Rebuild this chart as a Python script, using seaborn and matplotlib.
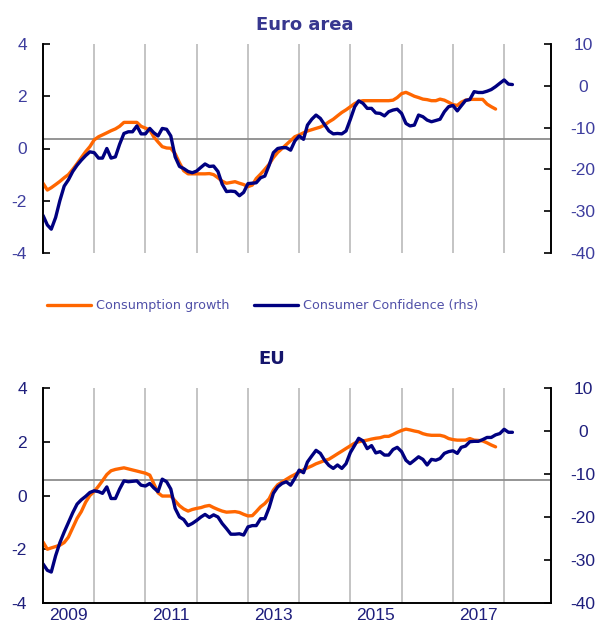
import numpy as np
import pandas as pd
import matplotlib
matplotlib.use("Agg")
import matplotlib.pyplot as plt
import matplotlib.dates as mdates
import seaborn as sns

# monthly data starting Jan 2009
ea_conf = [-31, -33.3, -34.3, -31.5, -27.5, -24, -22.5, -20.5, -19, -17.8, -16.7, -15.8,
           -16, -17.3, -17.3, -15, -17.3, -17, -14, -11.4, -11, -11, -9.6, -11.5,
           -11.5, -10.2, -11.2, -12, -10.2, -10.4, -12, -17, -19.3, -19.8, -20.5, -20.8,
           -20.4, -19.5, -18.7, -19.3, -19.2, -20.5, -23.5, -25.3, -25.2, -25.3, -26.3, -25.5,
           -23.4, -23.3, -23.2, -22, -21.6, -19, -16, -15, -14.8, -14.8, -15.4, -13.2,
           -12, -12.8, -9.4, -8, -7, -7.8, -9.3, -10.8, -11.5, -11.4, -11.5, -10.8,
           -8, -5, -3.6, -4.2, -5.4, -5.4, -6.5, -6.6, -7.2, -6.2, -5.8, -5.6,
           -6.6, -9.0, -9.6, -9.4, -7.0, -7.4, -8.2, -8.6, -8.3, -8.0, -6.2, -5.0,
           -4.7, -6.0, -4.8, -3.5, -3.3, -1.4, -1.6, -1.6, -1.3, -0.9, -0.2, 0.6,
           1.4, 0.4, 0.3]
ea_cons = [-1.33, -1.59, -1.5, -1.38, -1.26, -1.12, -1.0, -0.8, -0.58, -0.35, -0.12, 0.07,
           0.33, 0.45, 0.52, 0.6, 0.68, 0.75, 0.85, 1.0, 1.0, 1.0, 1.0, 0.85,
           0.78, 0.71, 0.45, 0.25, 0.07, 0.02, 0.01, -0.2, -0.55, -0.85, -0.97, -0.97,
           -0.97, -0.97, -0.97, -0.96, -1.0, -1.12, -1.25, -1.33, -1.3, -1.27, -1.33, -1.38,
           -1.46, -1.4, -1.15, -0.98, -0.8, -0.6, -0.35, -0.15, 0.0, 0.15, 0.3, 0.45,
           0.52, 0.6, 0.67, 0.72, 0.77, 0.82, 0.9, 1.02, 1.12, 1.25, 1.38, 1.48,
           1.6, 1.72, 1.8, 1.83, 1.83, 1.83, 1.83, 1.83, 1.83, 1.83, 1.85, 1.95,
           2.1, 2.15, 2.08, 2.0, 1.95, 1.89, 1.87, 1.83, 1.83, 1.89, 1.85, 1.77,
           1.68, 1.65, 1.77, 1.85, 1.88, 1.88, 1.88, 1.88, 1.7, 1.6, 1.51]
eu_conf = [-30.9, -32.4, -32.8, -29, -26, -23.5, -21.3, -19, -17, -16, -15.2, -14.3,
           -13.9, -14.1, -14.5, -13, -15.7, -15.7, -13.5, -11.6, -11.8, -11.7, -11.6, -12.6,
           -12.8, -12.2, -13.2, -14.1, -11.2, -11.8, -13.5, -18, -20, -20.6, -22, -21.5,
           -20.8, -20, -19.4, -20.1, -19.5, -20, -21.5, -22.7, -24, -24, -23.9, -24.2,
           -22.3, -22, -22, -20.4, -20.4, -17.8, -14.5, -13, -12.2, -11.8, -12.6, -11,
           -9.1, -9.7, -7.2, -5.8, -4.5, -5.2, -6.8, -8, -8.7, -7.9, -8.7, -7.6,
           -5, -3.3, -1.7, -2.3, -4.1, -3.4, -5.1, -4.8, -5.6, -5.6, -4.3, -3.8,
           -4.8, -6.8, -7.6, -6.8, -6.0, -6.6, -7.9, -6.6, -6.8, -6.4, -5.2, -4.8,
           -4.6, -5.2, -3.8, -3.5, -2.5, -2.4, -2.4, -2.0, -1.5, -1.5, -0.9, -0.6,
           0.4, -0.3, -0.3]
eu_cons = [-1.73, -2.0, -1.95, -1.9, -1.85, -1.75, -1.55, -1.2, -0.85, -0.6, -0.25, 0.0,
           0.15, 0.35, 0.55, 0.78, 0.92, 0.97, 1.0, 1.03, 0.99, 0.95, 0.91, 0.87,
           0.83, 0.76, 0.45, 0.1, -0.02, -0.02, -0.02, -0.2, -0.38, -0.5, -0.58, -0.52,
           -0.48, -0.45, -0.4, -0.37, -0.45, -0.52, -0.58, -0.62, -0.61, -0.6, -0.63, -0.7,
           -0.76, -0.75, -0.6, -0.42, -0.3, -0.12, 0.2, 0.4, 0.5, 0.6, 0.7, 0.78,
           0.87, 0.96, 1.03, 1.1, 1.18, 1.24, 1.3, 1.35, 1.45, 1.55, 1.65, 1.75,
           1.85, 1.95, 2.0, 2.03, 2.06, 2.1, 2.13, 2.15, 2.2, 2.2, 2.27, 2.35,
           2.42, 2.47, 2.44, 2.4, 2.37, 2.3, 2.26, 2.24, 2.24, 2.24, 2.2, 2.12,
           2.08, 2.06, 2.06, 2.06, 2.12, 2.06, 2.05, 2.03, 1.96, 1.88, 1.81]
# grey reference lines (long-term average, left-axis units)
avg_line = [0.37, 0.59]
titles = ["Euro area", "EU"]
year_labels = ["2009", "2011", "2013", "2015", "2017"]

ORANGE = "#FF6600"
NAVY = "#000080"

sns.set_style("white")
plt.rcParams["font.family"] = ["Liberation Sans", "DejaVu Sans"]
plt.rcParams["axes.unicode_minus"] = False

fig = plt.figure(figsize=(5.97, 6.28), dpi=100)
ax_top = fig.add_axes([43 / 597, 1 - 253 / 628, 508 / 597, 209 / 628])
ax_bot = fig.add_axes([43 / 597, 1 - 603 / 628, 508 / 597, 215 / 628])

panels = [
    (ax_top, ea_cons, ea_conf, "#3D3D9E"),
    (ax_bot, eu_cons, eu_conf, "#1E1E7C"),
]

year_starts = pd.to_datetime([f"{y}-01-01" for y in range(2010, 2019)])
mid_years = pd.to_datetime([f"{y}-07-01" for y in year_labels])
right_axes = []

for i, (ax, cons, conf, lab_col) in enumerate(panels):
    d_cons = pd.DataFrame({"date": pd.date_range("2009-01-01", periods=len(cons), freq="MS"),
                           "value": cons})
    d_conf = pd.DataFrame({"date": pd.date_range("2009-01-01", periods=len(conf), freq="MS"),
                           "value": conf})
    ax2 = ax.twinx()
    right_axes.append(ax2)

    ax.axhline(avg_line[i], color="#8C8C8C", lw=1.3, zorder=1)
    sns.lineplot(data=d_cons, x="date", y="value", ax=ax, color=ORANGE, lw=2.4, zorder=3)
    sns.lineplot(data=d_conf, x="date", y="value", ax=ax2, color=NAVY, lw=2.4)

    ax.set_xlim(pd.Timestamp("2009-01-01"), pd.Timestamp("2018-12-01"))
    ax.set_ylim(-4, 4)
    ax2.set_ylim(-40, 10)
    ax.set_yticks([-4, -2, 0, 2, 4])
    ax2.set_yticks([-40, -30, -20, -10, 0, 10])
    ax.set_xlabel("")
    ax.set_ylabel("")
    ax2.set_ylabel("")

    ax.set_xticks(year_starts)
    ax.set_xticklabels([])
    ax.set_xticks(mid_years, minor=True)
    if i == 1:
        ax.set_xticklabels(year_labels, minor=True, color=lab_col, fontsize=12.5)
    else:
        ax.set_xticklabels([], minor=True)
    ax.tick_params(axis="x", which="both", length=0, pad=3.5)
    ax.grid(axis="x", which="major", color="#C4C4C4", lw=1.4)
    ax.grid(axis="y", visible=False)
    ax2.grid(False)

    ax.tick_params(axis="y", direction="in", length=5, width=1.2, colors="black",
                   labelcolor=lab_col, labelsize=12.5, pad=11.5)
    ax2.tick_params(axis="y", direction="in", length=5, width=1.2, colors="black",
                    labelcolor=lab_col, labelsize=12.5, pad=23)

    for a in (ax, ax2):
        a.spines["top"].set_visible(False)
        a.spines["left"].set_color("black")
        a.spines["right"].set_color("black")
        a.spines["left"].set_linewidth(1.2)
        a.spines["right"].set_linewidth(1.2)
        a.spines["bottom"].set_visible(i == 1)
        a.spines["bottom"].set_color("black")
        a.spines["bottom"].set_linewidth(1.2)

    if i == 0:
        h_cons, h_conf = ax.lines[-1], ax2.lines[-1]

fig.text(305 / 597, 1 - 25 / 628, titles[0], ha="center", va="center",
         fontsize=13, fontweight="bold", color="#37378F", family="DejaVu Sans")
fig.text(272 / 597, 1 - 359 / 628, titles[1], ha="center", va="center",
         fontsize=13, fontweight="bold", color="#15156C", family="DejaVu Sans")

fig.legend([h_cons, h_conf], ["Consumption growth", "Consumer Confidence (rhs)"],
           loc="center", bbox_to_anchor=(263 / 597, 1 - 306 / 628), ncol=2,
           frameon=False, handlelength=3.4, handletextpad=0.45, columnspacing=1.9,
           prop={"family": "DejaVu Sans", "size": 9.2}, labelcolor="#5050A8")

# right-hand tick labels are centred in the strip right of the axis
fig.canvas.draw()
for a in right_axes:
    for t in a.get_yticklabels():
        t.set_horizontalalignment("center")

fig.savefig("out.png", dpi=100)
